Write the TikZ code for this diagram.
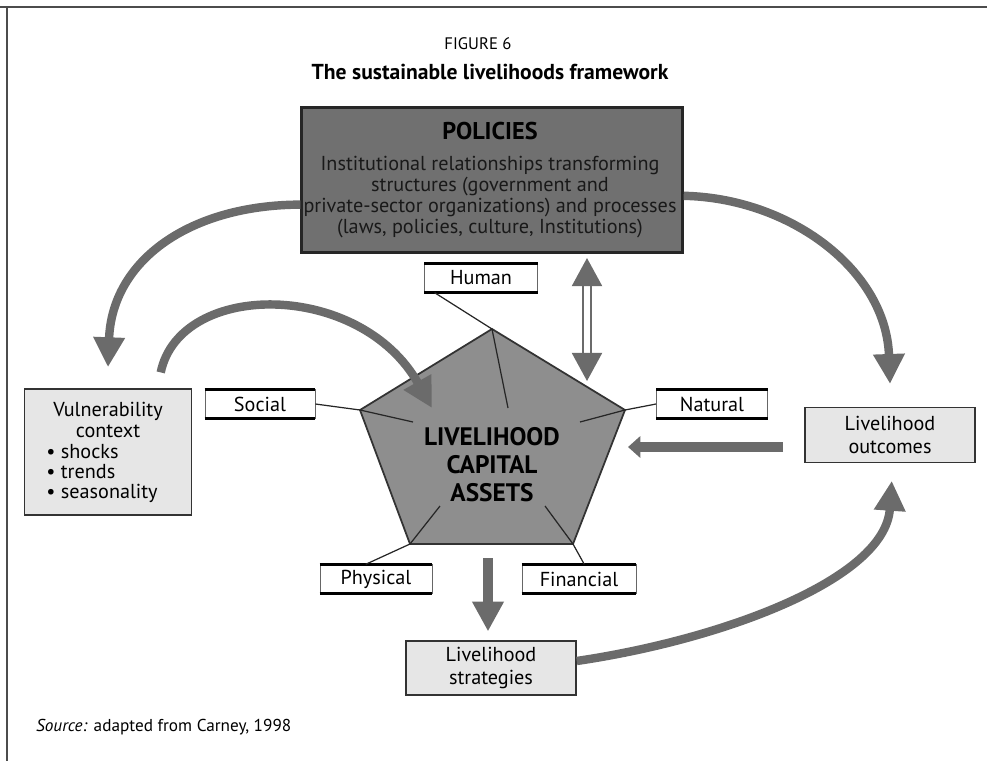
\documentclass[tikz,border=0pt]{standalone}
\usepackage{fontspec}
\setmainfont{PT Sans}
\usetikzlibrary{arrows.meta}

\definecolor{arrowgray}{HTML}{6B6B6B}
\definecolor{polgray}{HTML}{707070}
\definecolor{pentgray}{HTML}{8E8E8E}
\definecolor{boxgray}{HTML}{E6E6E6}

\tikzset{
  bigarrow/.style={draw=arrowgray, line width=4.8pt,
    -{Triangle[length=17pt,width=17pt]}},
  assetbox/.style={draw=black!60, fill=white, line width=0.5pt, inner sep=0pt,
    minimum height=0.57cm, font=\fontsize{11.5}{13}\selectfont},
  greybox/.style={draw=black!80, fill=boxgray, line width=0.9pt, align=center,
    inner sep=0pt, font=\fontsize{11.5}{13}\selectfont,
    minimum width=3.4cm, minimum height=1.1cm},
  spoke/.style={draw=black!85, line width=0.7pt}
}

\begin{document}
\begin{tikzpicture}[x=0.02cm,y=-0.02cm]

\useasboundingbox (0,0) rectangle (987,761);
\draw[line width=0.8pt, black!70] (0,7) -- (987,7);
\draw[line width=0.8pt, black!70] (7,7) -- (7,761);

\node[font=\fontsize{9.5}{11}\selectfont] (fig) at (478,44) {FIGURE 6};
\node[font=\fontsize{12.3}{14}\selectfont\bfseries] (title) at (490,72)
  {The sustainable livelihoods framework};

% policies box
\node[draw=black!85, fill=polgray, line width=1.4pt, minimum width=7.62cm,
  minimum height=2.9cm, inner sep=0pt] (pol) at (492,180) {};
\node[font=\fontsize{13.8}{16}\selectfont\bfseries] (poltitle) at (490,131) {POLICIES};
\node[align=center, font=\fontsize{11.5}{12}\selectfont, text=black!90] (poltext) at (490,197)
  {Institutional relationships transforming\\
   structures (government and\\
   private-sector organizations) and processes\\
   (laws, policies, culture, Institutions)};

% pentagon of assets
\coordinate (p1) at (492,329);
\coordinate (p2) at (625,410);
\coordinate (p3) at (573,544);
\coordinate (p4) at (410,544);
\coordinate (p5) at (360,410);
\draw[fill=pentgray, draw=black!80, line width=1pt]
  (p1) -- (p2) -- (p3) -- (p4) -- (p5) -- cycle;

\node[assetbox, minimum width=2.26cm] (human) at (481,278) {Human};
\node[assetbox, minimum width=2.2cm] (social) at (260,404) {Social};
\node[assetbox, minimum width=2.22cm] (natural) at (712,404) {Natural};
\node[assetbox, minimum width=2.24cm] (physical) at (376,579) {Physical};
\node[assetbox, minimum width=2.28cm] (financial) at (579,579) {Financial};
\foreach \n in {human,social,natural,physical,financial}
  \draw[line width=1.4pt] (\n.north west) -- (\n.north east)
                          (\n.south west) -- (\n.south east);

\draw[spoke] ([xshift=6pt]human.south west) -- (p1) -- (508,408);
\draw[spoke] (social.east) -- (p5) -- (413,422);
\draw[spoke] (natural.west) -- (p2) -- (580,422);
\draw[spoke] ([xshift=-38pt]physical.north east) -- (p4) -- (440,506);
\draw[spoke] ([xshift=3pt]financial.north) -- (p3) -- (545,506);

\node[align=center, font=\Large\bfseries] (assets) at (492,465)
  {LIVELIHOOD\\[-2pt]CAPITAL\\[-2pt]ASSETS};

% grey boxes
\node[greybox, minimum width=3.34cm, minimum height=2.52cm] (vul) at (108,452) {};
\node[align=center, font=\fontsize{11.5}{11.5}\selectfont] (vulhead) at (108,420)
  {Vulnerability\\context};
\node[align=left, anchor=north west, inner sep=0pt,
  font=\fontsize{11.5}{11.5}\selectfont] (vullist) at (46,444)
  {\textbullet\ shocks\\\textbullet\ trends\\\textbullet\ seasonality};
\node[greybox] (out) at (890,435) {Livelihood\\outcomes};
\node[greybox, minimum height=1.08cm] (strat) at (491,668)
  {Livelihood\\strategies};

% arrows
\coordinate (enter) at (432,408);
\coordinate (down) at (488,558);
\coordinate (bar) at (628,447);
\draw[bigarrow] ([yshift=-14pt]pol.west) .. controls (190,205) and (112,260) .. ([yshift=12pt]vul.north);
\draw[bigarrow] ([xshift=30pt,yshift=9pt]vul.north) .. controls (180,280) and (360,280) .. (enter);
\draw[bigarrow] ([yshift=-9pt]pol.east) .. controls (790,198) and (886,270) .. ([yshift=13pt]out.north);
\draw[bigarrow] ([yshift=4pt]strat.east) .. controls (720,640) and (885,580) .. ([xshift=1pt,yshift=-10pt]out.south);
\draw[bigarrow, line width=5.6pt] (down) -- ([yshift=5pt]strat.north -| down);
\draw[draw=arrowgray, line width=6pt, -{Triangle[length=7pt,width=12pt]}]
  ([xshift=-12pt]bar -| out.west) -- (bar);

% double arrow between policies and assets
\coordinate (dtop) at (587,258);
\coordinate (dbot) at (587,381);
\draw[draw=arrowgray, double=white, double distance=3pt, line width=1.6pt,
  {Triangle[length=16pt,width=17pt]}-{Triangle[length=16pt,width=17pt]}] (dtop) -- (dbot);

\node[font=\fontsize{9.8}{11}\selectfont, anchor=west] (src) at (30,727)
  {\textit{Source:} adapted from Carney, 1998};

\end{tikzpicture}
\end{document}
